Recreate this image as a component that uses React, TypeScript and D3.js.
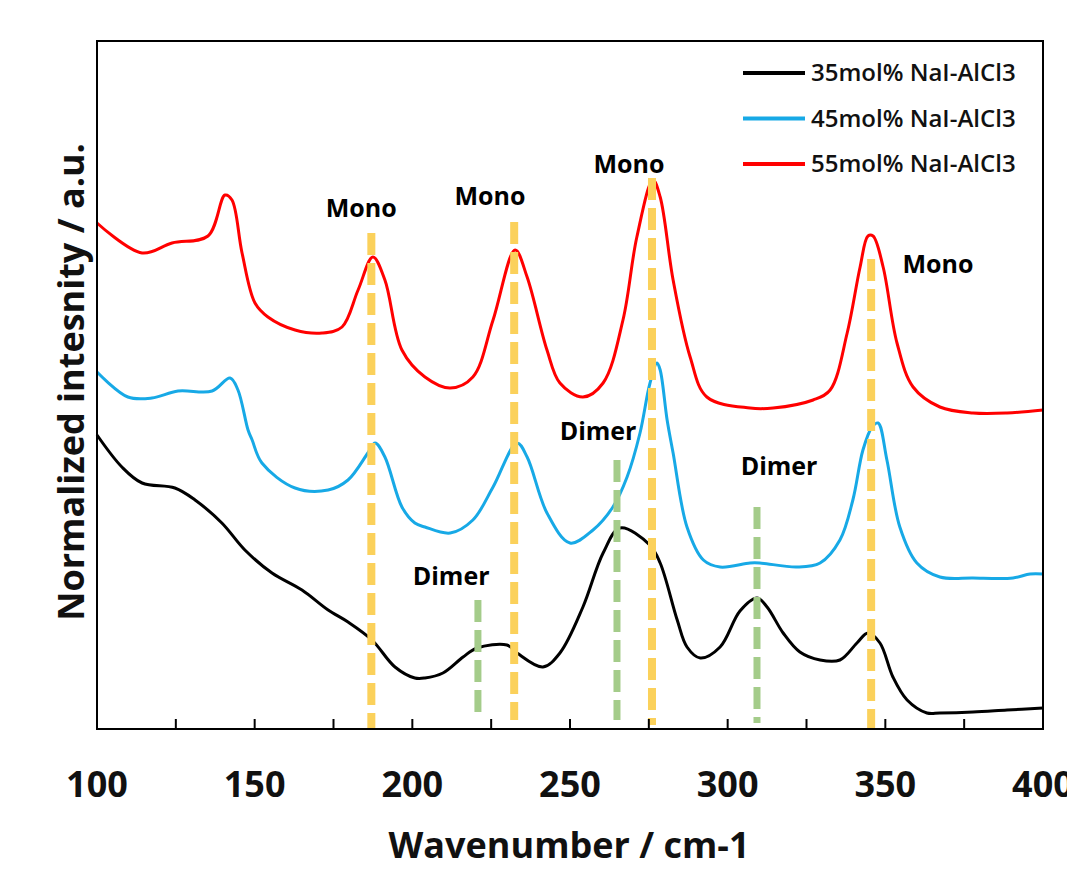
import * as d3 from "d3";

// Raman spectra, intensity in a.u. (offset stacked)
const redSeries: [number, number][] = [
  [100, 506], [114.3, 476], [123.8, 486], [135.2, 493], [140.6, 534], [142.8, 529],
  [146.0, 476], [150.1, 426], [154.2, 412], [162.8, 399], [171.4, 396], [177.7, 402],
  [182.8, 439], [187.5, 472], [191.3, 449], [196.7, 379], [204.0, 352], [212.0, 341],
  [219.2, 352], [225.6, 409], [232.6, 479], [236.4, 452], [242.7, 379], [246.8, 346],
  [254.1, 332], [260.5, 346], [266.8, 409], [271.2, 492], [276.3, 549], [278.6, 532],
  [282.7, 449], [288.1, 372], [293.4, 332], [307.1, 321], [314.4, 321], [327.1, 329],
  [332.5, 339], [337.9, 396], [342.0, 462], [344.5, 493], [346.1, 493], [349.3, 462],
  [353.7, 386], [358.8, 342], [367.3, 322], [377.8, 316], [388.6, 316], [400, 319],
];

const blueSeries: [number, number][] = [
  [100, 357], [109.8, 332], [117.4, 331], [125.7, 338], [136.5, 338], [142.2, 351],
  [144.7, 339], [147.9, 299], [149.2, 289], [152.3, 266], [162.8, 241], [173.3, 239],
  [179.6, 249], [185.9, 276], [188.2, 286], [191.3, 272], [196.7, 222], [200.8, 206],
  [204.0, 202], [212.0, 196], [219.2, 209], [225.6, 242], [233.2, 286], [236.4, 272],
  [242.7, 216], [250.0, 186], [257.3, 199], [263.6, 222], [268.1, 252], [272.2, 296],
  [275.3, 345], [277.6, 366], [278.6, 359], [280.8, 309], [282.7, 276], [287.1, 202],
  [292.3, 169], [297.6, 162], [307.1, 166], [310.2, 166], [322.0, 162], [329.3, 166],
  [335.6, 189], [339.7, 229], [342.9, 279], [345.8, 302], [347.7, 306], [350.5, 269],
  [354.6, 202], [360.0, 166], [367.3, 152], [377.8, 151], [390.5, 151], [395.9, 155],
  [400, 155],
];

const blackSeries: [number, number][] = [
  [100, 294], [107.9, 262], [114.3, 246], [124.7, 241], [131.1, 229], [139.6, 206],
  [146.9, 179], [155.5, 156], [165.0, 139], [173.3, 119], [179.6, 107], [187.2, 89],
  [194.5, 62], [200.8, 51], [204.0, 51], [209.7, 56], [216.1, 72], [220.5, 81],
  [230.0, 84], [233.2, 76], [241.4, 62], [246.8, 76], [254.1, 122], [260.5, 176],
  [265.9, 201], [275.3, 184], [278.6, 166], [284.0, 109], [287.1, 82], [291.3, 71],
  [297.6, 82], [303.9, 118], [309.3, 131], [312.5, 122], [317.6, 96], [322.9, 77],
  [329.3, 69], [335.6, 69], [341.0, 86], [344.5, 96], [348.3, 86], [352.4, 52],
  [356.9, 29], [363.2, 16], [367.3, 16], [377.8, 17], [388.6, 19], [400, 21],
];

const legendLabels = ["35mol% NaI-AlCl3", "45mol% NaI-AlCl3", "55mol% NaI-AlCl3"];
const legendColors = ["#000000", "#17a9e6", "#ff0000"];

// marker lines: wavenumber, top, bottom (a.u.)
const monoMarkers: [number, number, number][] = [
  [187.0, 496, 0], [232.3, 507, 9], [276.0, 551, 4], [345.5, 470, 0],
];
const dimerMarkers: [number, number, number][] = [
  [220.8, 129, 9], [264.9, 269, 9], [309.3, 222, 6],
];

// annotation text: label, wavenumber (center), a.u. (baseline)
const annotations: [string, number, number][] = [
  ["Mono", 183.8, 512], ["Mono", 224.6, 524], ["Mono", 268.7, 556], ["Mono", 366.7, 456],
  ["Dimer", 212.3, 144], ["Dimer", 258.9, 289], ["Dimer", 316.3, 254],
];

const xTicks = d3.range(125, 400, 25);
const xLabels = [100, 150, 200, 250, 300, 350, 400];

const W = 1067;
const H = 871;
const left = 97, right = 1043, top = 41, bottom = 729;

export default function App() {
  const x = d3.scaleLinear().domain([100, 400]).range([left, right]);
  const y = d3.scaleLinear().domain([0, 688]).range([bottom, top]);
  const line = d3
    .line<[number, number]>()
    .x((d) => x(d[0]))
    .y((d) => y(d[1]))
    .curve(d3.curveCatmullRom.alpha(0.5));

  const series = [
    { data: blackSeries, color: legendColors[0] },
    { data: blueSeries, color: legendColors[1] },
    { data: redSeries, color: legendColors[2] },
  ];
  const font = "'Open Sans', 'DejaVu Sans', sans-serif";

  return (
    <svg width={W} height={H} style={{ position: "absolute", left: 0, top: 0, background: "#fff" }}>
      {series.map((s, i) => (
        <path key={i} d={line(s.data) || ""} fill="none" stroke={s.color} strokeWidth={3} strokeLinejoin="round" />
      ))}

      {dimerMarkers.map((m, i) => (
        <line key={"d" + i} x1={x(m[0])} x2={x(m[0])} y1={y(m[1])} y2={y(m[2])}
          stroke="#a4cc8a" strokeWidth={7} strokeDasharray="22 8" />
      ))}
      {monoMarkers.map((m, i) => (
        <line key={"m" + i} x1={x(m[0])} x2={x(m[0])} y1={y(m[1])} y2={y(m[2])}
          stroke="#fbd15b" strokeWidth={8} strokeDasharray="22 8" />
      ))}

      {annotations.map((a, i) => (
        <text key={"a" + i} x={x(a[1])} y={y(a[2])} textAnchor="middle" fontFamily={font}
          fontWeight="bold" fontSize={25} fill="#000">{a[0]}</text>
      ))}

      <rect x={left} y={top} width={right - left} height={bottom - top} fill="none" stroke="#000" strokeWidth={2} />
      {xTicks.map((t) => (
        <line key={"t" + t} x1={x(t)} x2={x(t)} y1={bottom} y2={bottom - 10} stroke="#000" strokeWidth={2} />
      ))}
      {xLabels.map((t) => (
        <text key={"l" + t} x={x(t)} y={797} textAnchor="middle" fontFamily={font}
          fontWeight="bold" fontSize={36} fill="#111">{t}</text>
      ))}
      <text x={569} y={858} textAnchor="middle" fontFamily={font} fontWeight="bold" fontSize={36} fill="#111">
        Wavenumber / cm-1
      </text>
      <text transform={`translate(84, 382) rotate(-90)`} textAnchor="middle" fontFamily={font}
        fontWeight="bold" fontSize={36} fill="#111">
        Normalized intesnity / a.u.
      </text>

      {legendLabels.map((l, i) => {
        const ly = 73 + i * 45.5;
        return (
          <g key={"g" + i}>
            <line x1={743} x2={805} y1={ly} y2={ly} stroke={legendColors[i]} strokeWidth={4} />
            <text x={811} y={ly + 8} fontFamily={font} fontWeight={600} fontSize={24} fill="#111">{l}</text>
          </g>
        );
      })}
    </svg>
  );
}
